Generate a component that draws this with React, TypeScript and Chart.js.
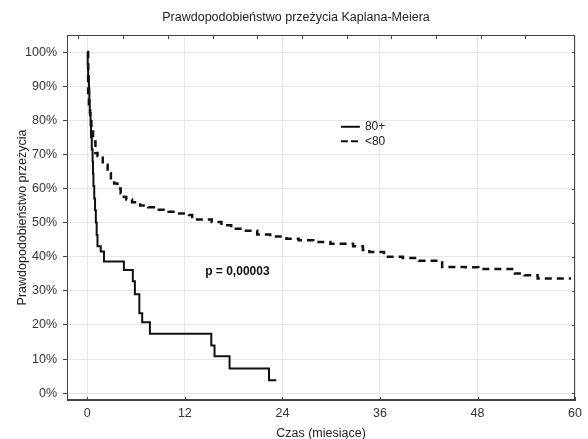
import React, { useEffect, useRef } from "react";
import { Chart, registerables } from "chart.js";

Chart.register(...registerables);

const TITLE = "Prawdopodobieństwo przeżycia Kaplana-Meiera";
const X_TITLE = "Czas (miesiące)";
const Y_TITLE = "Prawdopodobieństwo przeżycia";
const SERIES_NAMES = ["80+", "<80"];
const P_TEXT = "p = 0,00003";

// Group 80+ (solid): time in months, survival in %
const oldTimes = [0, 0.05, 0.1, 0.2, 0.25, 0.3, 0.4, 0.45, 0.55, 0.65, 0.7, 0.75, 0.85, 0.95, 1.05, 1.15, 1.25, 1.65, 2.05, 4.5, 5.6, 5.85, 6.4, 6.75, 7.7, 15.25, 15.65, 17.5, 22.35, 23.25];
const oldSurv = [100, 96.4, 92.9, 89.3, 85.7, 82.1, 78.6, 75, 71.4, 67.9, 64.3, 60.7, 57.1, 53.6, 50, 46.4, 43.1, 41.5, 38.6, 36.1, 32.8, 29.0, 23.4, 20.8, 17.4, 14.0, 10.8, 7.2, 3.8, 3.8];

// Group <80 (dashed)
const youngTimes = [0, 0.1, 0.2, 0.35, 0.5, 0.7, 1.0, 1.25, 1.9, 2.5, 2.9, 3.3, 3.7, 4.1, 4.5, 4.8, 5.5, 6.5, 7.5, 8.8, 10.0, 11.0, 12.5, 12.9, 15.3, 16.5, 17.7, 19.5, 20.9, 22.5, 24.5, 26.0, 27.8, 29.9, 32.7, 33.9, 34.7, 36.5, 38.8, 40.8, 43.65, 46.5, 48.1, 51.8, 52.6, 53.8, 55.4, 59.5];
const youngSurv = [100, 88, 84, 81, 77.6, 73.8, 70.4, 69.5, 67, 64.5, 63, 61.5, 60, 58.5, 57.5, 56.8, 56, 55, 54.5, 53.8, 53.2, 52.7, 52.2, 50.9, 50.2, 49.2, 48.2, 47.6, 46.5, 45.9, 45.3, 44.8, 44.3, 43.8, 43.1, 42.0, 41.4, 40.0, 39.6, 38.8, 37.0, 36.9, 36.4, 36.4, 35.1, 34.6, 33.6, 33.6];

const xTicks = [0, 12, 24, 36, 48, 60];
const yTicks = [0, 10, 20, 30, 40, 50, 60, 70, 80, 90, 100];
const topMinorTicks = [-1.1, 4.4, 9.9, 15.4, 20.9, 26.4, 31.9, 37.4, 42.9, 48.4, 53.9];

const FONT = "'Liberation Sans', Arial, sans-serif";
const FS = 12.5;

const decoPlugin = {
  id: "deco",
  afterDraw(chart: any) {
    const { ctx, chartArea: a, scales } = chart;
    const xs = scales.x;
    const ys = scales.y;
    ctx.save();
    ctx.strokeStyle = "#444";
    ctx.lineWidth = 1;
    ctx.setLineDash([]);
    ctx.strokeRect(Math.round(a.left) + 0.5, Math.round(a.top) + 0.5, Math.round(a.right - a.left) - 1, Math.round(a.bottom - a.top) - 1);
    ctx.beginPath();
    topMinorTicks.forEach((v) => {
      const px = Math.round(xs.getPixelForValue(v)) + 0.5;
      ctx.moveTo(px, a.top);
      ctx.lineTo(px, a.top + 4);
    });
    xTicks.forEach((v) => {
      const px = Math.round(xs.getPixelForValue(v)) + 0.5;
      ctx.moveTo(px, a.bottom);
      ctx.lineTo(px, a.bottom - 3);
    });
    yTicks.forEach((v) => {
      const py = Math.round(ys.getPixelForValue(v)) + 0.5;
      ctx.moveTo(a.right - 3, py);
      ctx.lineTo(a.right, py);
    });
    ctx.stroke();

    // legend
    const lx = xs.getPixelForValue(31.2);
    const ly = ys.getPixelForValue(78.1);
    ctx.strokeStyle = "#111";
    ctx.lineWidth = 2;
    ctx.beginPath();
    ctx.moveTo(lx, ly);
    ctx.lineTo(lx + 19, ly);
    ctx.stroke();
    ctx.setLineDash([7, 3]);
    ctx.beginPath();
    ctx.moveTo(lx, ly + 14.5);
    ctx.lineTo(lx + 18, ly + 14.5);
    ctx.stroke();
    ctx.setLineDash([]);
    ctx.fillStyle = "#222";
    ctx.font = `12px ${FONT}`;
    ctx.textAlign = "left";
    ctx.textBaseline = "middle";
    ctx.fillText(SERIES_NAMES[0], lx + 24, ly);
    ctx.fillText(SERIES_NAMES[1], lx + 24, ly + 14.5);

    // p-value
    ctx.font = `bold 12px ${FONT}`;
    ctx.fillStyle = "#111";
    ctx.fillText(P_TEXT, xs.getPixelForValue(14.5), ys.getPixelForValue(35.6));
    ctx.restore();
  },
};

export default function App() {
  const ref = useRef<HTMLCanvasElement | null>(null);
  useEffect(() => {
    if (!ref.current) return;
    Chart.defaults.font.family = FONT;
    const chart = new Chart(ref.current, {
      type: "line",
      data: {
        datasets: [
          {
            label: SERIES_NAMES[0],
            data: oldTimes.map((t, i) => ({ x: t, y: oldSurv[i] })),
            borderColor: "#111",
            borderWidth: 2,
            pointRadius: 0,
            stepped: true,
            fill: false,
          },
          {
            label: SERIES_NAMES[1],
            data: youngTimes.map((t, i) => ({ x: t, y: youngSurv[i] })),
            borderColor: "#111",
            borderWidth: 2.5,
            borderDash: [7, 5],
            pointRadius: 0,
            stepped: true,
            fill: false,
          },
        ],
      },
      options: {
        animation: false,
        responsive: false,
        maintainAspectRatio: false,
        layout: { padding: { top: 10, right: 10, bottom: 0, left: 14 } },
        plugins: {
          legend: { display: false },
          tooltip: { enabled: false },
          title: {
            display: true,
            text: TITLE,
            color: "#222",
            font: { size: FS, weight: "normal", family: FONT },
            padding: { top: 0, bottom: 10 },
          },
        },
        scales: {
          x: {
            type: "linear",
            min: -2.5,
            max: 60,
            afterBuildTicks: (s: any) => {
              s.ticks = xTicks.map((v) => ({ value: v }));
            },
            afterFit: (s: any) => {
              s.height = 39;
            },
            grid: { color: "#e6e6e6", drawTicks: false },
            border: { color: "#444", width: 1 },
            ticks: { color: "#333", font: { size: FS }, padding: 6 },
            title: {
              display: true,
              text: X_TITLE,
              color: "#222",
              font: { size: FS },
              padding: { top: 0, bottom: -2 },
            },
          },
          y: {
            type: "linear",
            min: -2,
            max: 105,
            afterBuildTicks: (s: any) => {
              s.ticks = yTicks.map((v) => ({ value: v }));
            },
            afterFit: (s: any) => {
              s.width = 53;
            },
            grid: { color: "#e6e6e6", tickColor: "#444", tickLength: 4 },
            border: { color: "#444", width: 1 },
            ticks: {
              color: "#333",
              font: { size: FS },
              padding: 6,
              callback: (v: any) => `${v}%`,
            },
            title: {
              display: true,
              text: Y_TITLE,
              color: "#222",
              font: { size: FS },
              padding: { top: 1, bottom: 4 },
            },
          },
        },
      },
      plugins: [decoPlugin],
    });
    return () => chart.destroy();
  }, []);
  return (
    <div style={{ position: "absolute", left: 0, top: 0, width: 588, height: 439, background: "#fff" }}>
      <canvas ref={ref} width={588} height={439} style={{ width: 588, height: 439 }} />
    </div>
  );
}
